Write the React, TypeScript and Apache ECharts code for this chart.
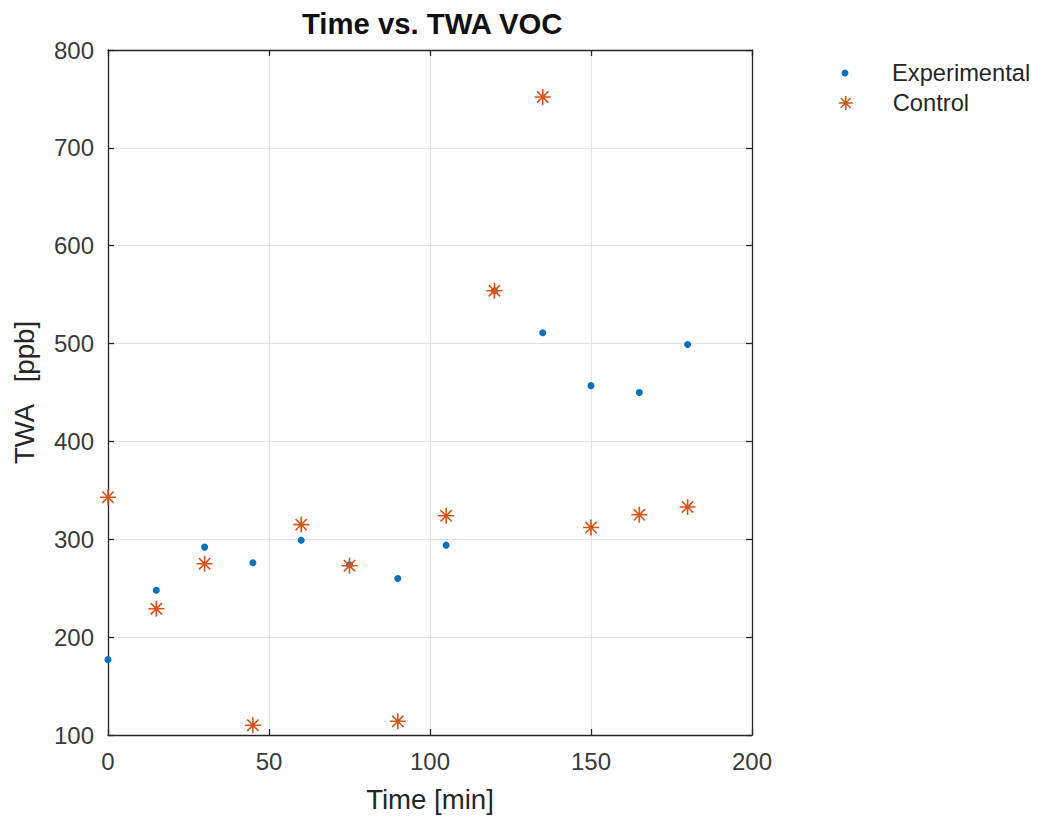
import React, { useEffect, useRef } from "react";
import * as echarts from "echarts";

// Sampling times (min)
const times = [0, 15, 30, 45, 60, 75, 90, 105, 120, 135, 150, 165, 180];
// Time-weighted average VOC (ppb)
const experimental = [177, 248, 292, 276, 299, 274, 260, 294, 554, 511, 457, 450, 499];
const control = [343, 229, 275, 110, 315, 273, 114, 324, 554, 752, 312, 325, 333];

const xTicks = { min: 0, max: 200, interval: 50 };
const yTicks = { min: 100, max: 800, interval: 100 };

const BLUE = "#0072BD";
const ORANGE = "#D95319";
const AXIS = "#262626";
const FONT = "'Liberation Sans', Arial, Helvetica, sans-serif";

// Eight-armed star marker (plus + cross), stroked only
const ASTERISK =
  "path://M10,0L10,20M0,10L20,10M2.93,2.93L17.07,17.07M2.93,17.07L17.07,2.93";

const pairs = (xs: number[], ys: number[]) => xs.map((x, i) => [x, ys[i]]);

export default function App() {
  const ref = useRef<HTMLDivElement>(null);

  useEffect(() => {
    if (!ref.current) return;
    const chart = echarts.init(ref.current, undefined, { renderer: "svg" });

    const boxAxis = {
      axisLine: { show: true, onZero: false, lineStyle: { color: AXIS, width: 1.3 } },
      axisTick: { show: true, inside: true, length: 6, lineStyle: { color: AXIS, width: 1.3 } },
    };

    const legendText = {
      fontFamily: FONT,
      fontSize: 23.7,
      color: AXIS,
      lineHeight: 24,
      padding: [0, 0, 0, 22],
    };

    chart.setOption({
      animation: false,
      backgroundColor: "#ffffff",
      textStyle: { fontFamily: FONT },
      title: {
        text: "Time vs. TWA VOC",
        left: 302,
        top: 8,
        padding: 0,
        textStyle: { fontFamily: FONT, fontSize: 29.3, fontWeight: "bold", color: "#111111", lineHeight: 30 },
      },
      legend: [
        {
          data: ["Experimental"],
          orient: "vertical",
          left: 841.5,
          top: 61,
          padding: 0,
          itemWidth: 40,
          itemHeight: 7,
          textStyle: legendText,
        },
        {
          data: ["Control"],
          orient: "vertical",
          left: 838,
          top: 91,
          padding: 0,
          itemWidth: 40,
          itemHeight: 14,
          itemStyle: { color: ORANGE, borderColor: ORANGE, borderWidth: 1.5 },
          textStyle: legendText,
        },
      ],
      grid: { left: 108, right: 291, top: 50, bottom: 88, containLabel: false },
      xAxis: [
        {
          type: "value",
          position: "bottom",
          ...xTicks,
          ...boxAxis,
          name: "Time [min]",
          nameLocation: "middle",
          nameGap: 50,
          nameTextStyle: { fontFamily: FONT, fontSize: 27.6, color: AXIS },
          axisLabel: { fontFamily: FONT, fontSize: 24, color: "#3a3a3a", margin: 14 },
          splitLine: { show: true, lineStyle: { color: "#e2e2e2", width: 1 } },
        },
        {
          type: "value",
          position: "top",
          ...xTicks,
          ...boxAxis,
          axisLabel: { show: false },
          splitLine: { show: false },
        },
      ],
      yAxis: [
        {
          type: "value",
          position: "left",
          ...yTicks,
          ...boxAxis,
          name: "TWA   [ppb]",
          nameLocation: "middle",
          nameGap: 70,
          nameTextStyle: { fontFamily: FONT, fontSize: 27.6, color: AXIS },
          axisLabel: { fontFamily: FONT, fontSize: 24, color: "#3a3a3a", margin: 14 },
          splitLine: { show: true, lineStyle: { color: "#e2e2e2", width: 1 } },
        },
        {
          type: "value",
          position: "right",
          ...yTicks,
          ...boxAxis,
          axisLabel: { show: false },
          splitLine: { show: false },
        },
      ],
      series: [
        {
          name: "Experimental",
          type: "scatter",
          xAxisIndex: 0,
          yAxisIndex: 0,
          symbol: "circle",
          symbolSize: 7,
          itemStyle: { color: BLUE, opacity: 1 },
          data: pairs(times, experimental),
          z: 2,
        },
        {
          name: "Control",
          type: "scatter",
          xAxisIndex: 0,
          yAxisIndex: 0,
          symbol: ASTERISK,
          symbolSize: 16,
          itemStyle: { color: ORANGE, borderColor: ORANGE, borderWidth: 1.6, opacity: 1 },
          data: pairs(times, control),
          z: 3,
        },
      ],
    });

    return () => chart.dispose();
  }, []);

  return (
    <div
      ref={ref}
      style={{ position: "absolute", left: 0, top: 0, width: 1043, height: 823, background: "#fff" }}
    />
  );
}
